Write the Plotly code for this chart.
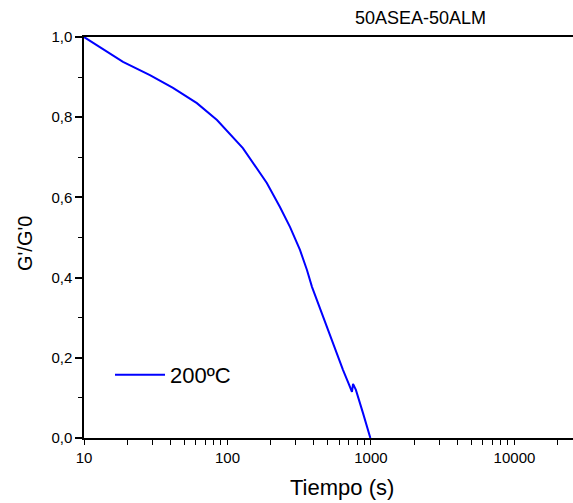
import plotly.graph_objects as go

# Data
tiempo = [10, 18.7, 28.8, 41.7, 61.2, 84.5, 128, 188, 232, 273, 320, 358, 388,
          463, 544, 638, 700, 737, 750, 785, 880, 990]
g_ratio = [1.0, 0.938, 0.905, 0.873, 0.835, 0.793, 0.723, 0.636, 0.576, 0.526,
           0.469, 0.419, 0.377, 0.302, 0.237, 0.170, 0.135, 0.115, 0.135,
           0.12, 0.062, 0.0]
series_name = "200ºC"
title_text = "50ASEA-50ALM"
x_title = "Tiempo (s)"
y_title = "G'/G'0"
x_major_vals = [10, 100, 1000, 10000]
x_major_text = ["10", "100", "1000", "10000"]
x_minor_vals = [m * d for d in (10, 100, 1000, 10000) for m in range(2, 10)]
y_tickvals = [0, 0.2, 0.4, 0.6, 0.8, 1.0]

# all x ticks (major labelled, minor unlabelled)
x_tickvals = x_major_vals + x_minor_vals
x_ticktext = x_major_text + [""] * len(x_minor_vals)

W, H = 573, 503
L, R, T, B = 84, 0, 37, 65
pw, ph = W - L - R, H - T - B
XRANGE = [1, 4.408]


def px(xp):
    return (xp - L) / pw


def py(yp):
    return (H - B - yp) / ph


fig = go.Figure()
fig.add_trace(go.Scatter(x=tiempo, y=g_ratio, mode="lines", name=series_name,
                         line=dict(color="#0000FF", width=2)))

font = "Liberation Sans, Arial, sans-serif"
fig.update_layout(
    width=W, height=H,
    margin=dict(l=L, r=R, t=T, b=B, autoexpand=False),
    plot_bgcolor="white", paper_bgcolor="white",
    separators=",.",
    font=dict(family=font, color="black", size=15),
    showlegend=True,
    legend=dict(x=px(110), y=py(375), xanchor="left", yanchor="middle",
                bgcolor="rgba(0,0,0,0)", font=dict(size=22, family=font),
                itemwidth=50),
    xaxis=dict(
        type="log", range=XRANGE, automargin=False,
        tickmode="array", tickvals=x_tickvals, ticktext=x_ticktext,
        ticks="outside", ticklen=5, tickwidth=1.3, tickcolor="black",
        showline=True, linecolor="black", linewidth=1.5, mirror=True,
        showgrid=False, zeroline=False,
        tickfont=dict(size=15),
    ),
    yaxis=dict(
        range=[0, 1.0], tickvals=y_tickvals, tickformat=".1f", automargin=False,
        ticks="outside", ticklen=7, tickwidth=1.5, tickcolor="black",
        minor=dict(dtick=0.1, ticks="outside", ticklen=4, tickwidth=1.2,
                   tickcolor="black", showgrid=False),
        showline=True, linecolor="black", linewidth=1.5,
        showgrid=False, zeroline=False,
        tickfont=dict(size=15),
    ),
)
fig.add_annotation(text=title_text, x=px(420), y=py(18), xref="paper", yref="paper",
                   showarrow=False, font=dict(size=18, family=font),
                   xanchor="center", yanchor="middle")
fig.add_annotation(text=x_title, x=px(342), y=py(487), xref="paper", yref="paper",
                   showarrow=False, font=dict(size=22, family=font),
                   xanchor="center", yanchor="middle")
fig.add_annotation(text=y_title, x=px(25), y=py(244), xref="paper", yref="paper",
                   showarrow=False, textangle=-90, font=dict(size=20, family=font),
                   xanchor="center", yanchor="middle")

fig.write_html("out.html", config={"displayModeBar": False},
               post_script="document.body.style.margin='0';document.body.style.overflow='hidden';")
